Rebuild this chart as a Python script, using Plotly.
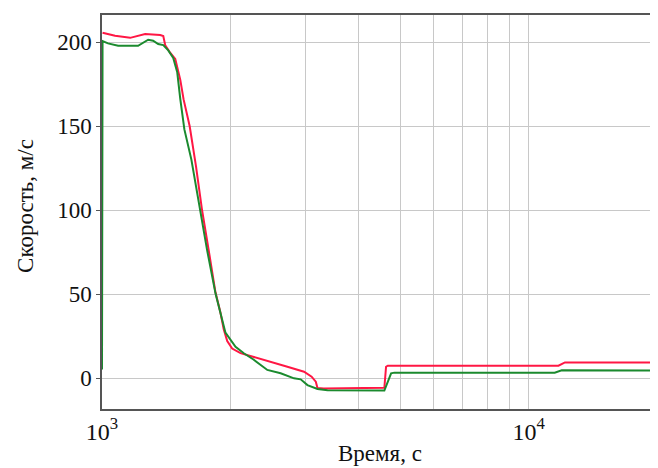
import plotly.graph_objects as go

# Red series (time, s ; speed, m/s)
red_t = [1003, 1073, 1164, 1262, 1369, 1392, 1407, 1446, 1485, 1526, 1553, 1605, 1661,
         1716, 1779, 1845, 1895, 1929, 1966, 2019, 2112, 2354, 2485, 2720, 2976, 3100,
         3171, 3200, 3310, 4591, 4633, 4676, 11750, 12170, 20000]
red_v = [205.5, 203.7, 202.5, 204.8, 204.2, 203.6, 198.0, 193.5, 190.0, 177.5, 166.0, 150.0, 126.0,
         100.0, 76.0, 51.0, 39.0, 29.0, 22.0, 17.5, 14.8, 11.5, 9.7, 6.7, 3.75, 0.8,
         -2.2, -6.0, -6.2, -5.8, 6.7, 7.3, 7.3, 9.3, 9.3]

# Green series
green_t = [1000, 1003, 1033, 1091, 1215, 1283, 1318, 1354, 1392, 1430, 1469, 1501, 1526,
           1560, 1620, 1664, 1694, 1764, 1845, 1913, 1947, 2056, 2150, 2265, 2441, 2623,
           2819, 2923, 3031, 3200, 3378, 4591, 4761, 4847, 11513, 11960, 20000]
green_v = [5, 200.6, 199.2, 197.8, 197.8, 201.4, 200.8, 198.8, 198.2, 195.0, 190.5, 182.0, 166.0,
           148.0, 130.0, 113.0, 100.0, 76.0, 50.4, 34.0, 27.0, 18.6, 14.7, 11.0, 4.8, 2.8,
           -0.2, -0.8, -4.2, -6.5, -7.3, -7.5, 2.8, 3.2, 3.2, 4.6, 4.4]

x_tickvals = [1000, 10000]
x_ticktext = ["10<sup>3</sup>", "10<sup>4</sup>"]
y_tickvals = [0, 50, 100, 150, 200]

fig = go.Figure()
fig.add_trace(go.Scatter(x=red_t, y=red_v, mode="lines",
                         line=dict(color="#ff1744", width=2), showlegend=False))
fig.add_trace(go.Scatter(x=green_t, y=green_v, mode="lines",
                         line=dict(color="#1b8a2e", width=2), showlegend=False))

serif = "Liberation Serif"
# the page body adds an 8px offset, so the figure is 650x460
fig.update_layout(
    width=650, height=460,
    margin=dict(l=94, r=1, t=7, b=59, autoexpand=False),
    paper_bgcolor="white", plot_bgcolor="white",
    font=dict(family=serif, size=22, color="#111"),
    annotations=[
        dict(text="Время, с", xref="paper", yref="paper", x=0.5, y=-0.114,
             xanchor="center", yanchor="middle", showarrow=False,
             font=dict(family=serif, size=23, color="#111")),
        dict(text="Скорость, м/с", xref="paper", yref="paper", x=-0.139, y=0.515,
             xanchor="center", yanchor="middle", textangle=-90, showarrow=False,
             font=dict(family=serif, size=23, color="#111")),
    ],
)
fig.update_xaxes(
    type="log", range=[3, 4.30103], automargin=False,
    tickvals=x_tickvals, ticktext=x_ticktext,
    minor=dict(tickvals=[2000, 3000, 4000, 5000, 6000, 7000, 8000, 9000],
               showgrid=True, gridcolor="#c8c8c8", gridwidth=1, ticks=""),
    showgrid=True, gridcolor="#c8c8c8", gridwidth=1,
    showline=True, linecolor="#555", linewidth=1.5, mirror=True,
    ticks="", zeroline=False,
    tickfont=dict(family=serif, size=24),
)
fig.update_yaxes(
    range=[-18.45, 216.1], automargin=False,
    tickvals=y_tickvals,
    showgrid=True, gridcolor="#c8c8c8", gridwidth=1,
    showline=True, linecolor="#555", linewidth=1.5, mirror=True,
    ticks="outside", ticklen=4, tickcolor="#555",
    zeroline=False,
    tickfont=dict(family=serif, size=23),
)

fig.write_html("out.html")
